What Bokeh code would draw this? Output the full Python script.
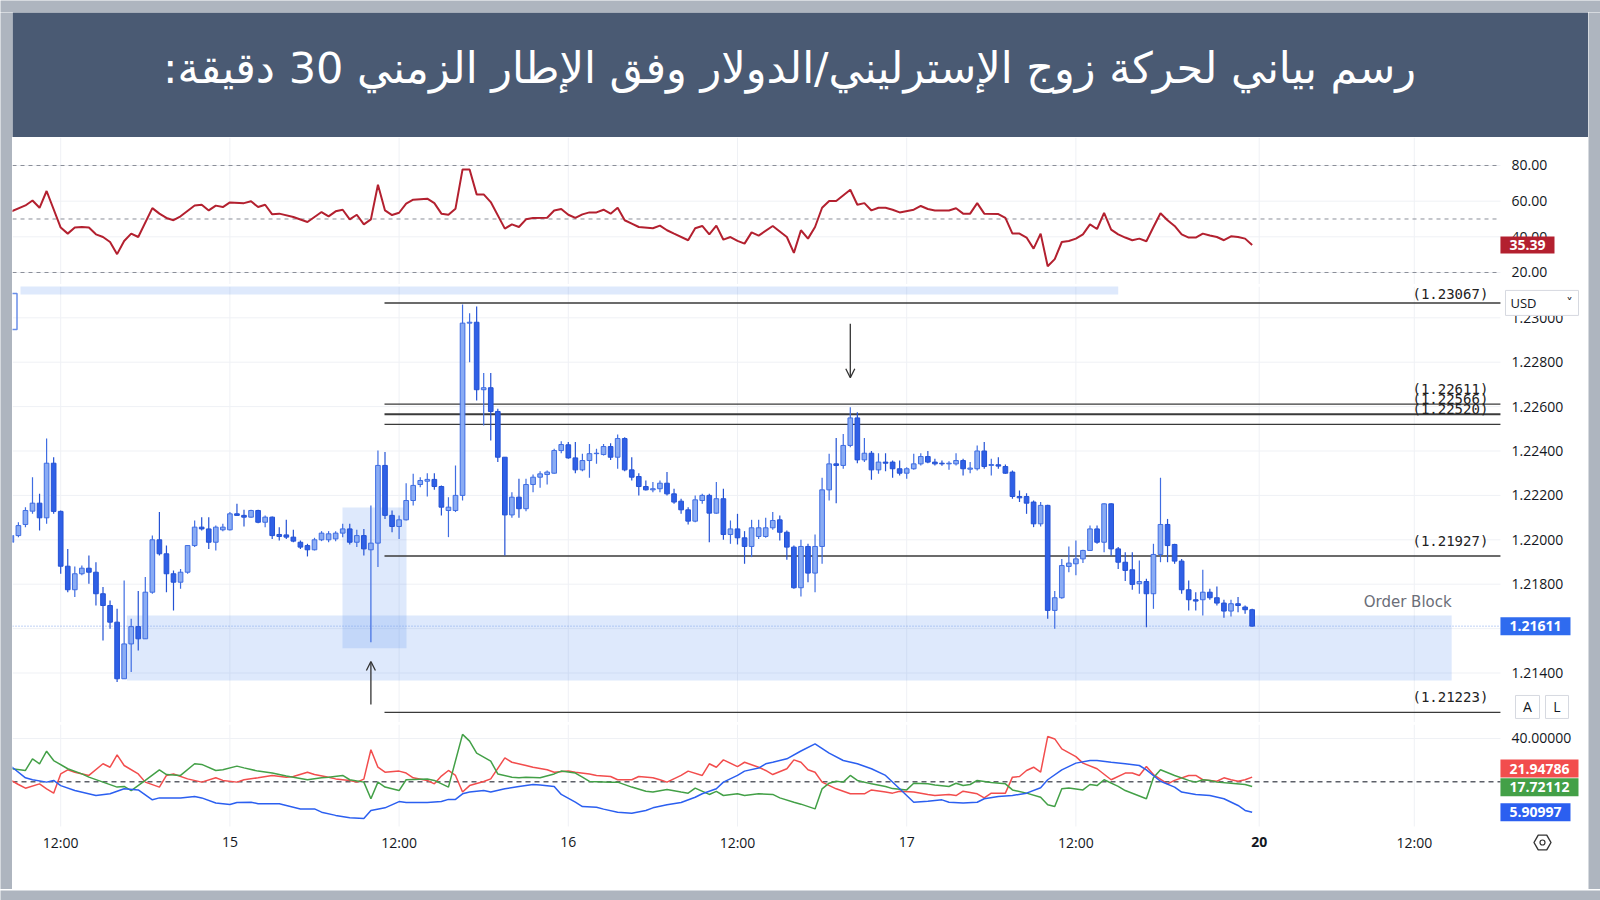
from bokeh.plotting import figure
from bokeh.layouts import column, row
from bokeh.models import Range1d, Arrow, OpenHead, ColumnDataSource
from bokeh.embed import file_html
from bokeh.resources import INLINE
from bokeh.core.properties import value

# ---------------- data ----------------
title_text = "\u200fرسم بياني لحركة زوج الإسترليني/الدولار وفق الإطار الزمني 30 دقيقة:\u200f"

opens = [1.21989,1.22019,1.22069,1.22129,1.22165,1.22099,1.22345,1.22128,1.21881,1.21775,
1.21847,1.21872,1.21854,1.21757,1.21704,1.21629,1.21374,1.21531,1.21609,1.21554,
1.21764,1.22000,1.21937,1.21847,1.21809,1.21854,1.21974,1.22057,1.22049,1.21989,
1.22045,1.22045,1.22117,1.22110,1.22102,1.22132,1.22079,1.22102,1.22024,1.22022,
1.22012,1.21989,1.21974,1.21955,1.22000,1.22000,1.22004,1.22030,1.22049,1.21989,
1.22019,1.21955,1.21985,1.22335,1.22110,1.22060,1.22090,1.22177,1.22249,1.22264,
1.22272,1.22240,1.22132,1.22132,1.22200,1.22976,1.22980,1.22676,1.22685,1.22578,
1.22372,1.22112,1.22192,1.22140,1.22249,1.22282,1.22294,1.22300,1.22402,1.22428,
1.22369,1.22315,1.22357,1.22388,1.22384,1.22420,1.22372,1.22456,1.22315,1.22285,
1.22240,1.22225,1.22230,1.22255,1.22207,1.22174,1.22135,1.22084,1.22177,1.22200,
1.22120,1.22185,1.22024,1.22049,1.22009,1.21970,1.22015,1.22015,1.22054,1.22090,
1.22034,1.21967,1.21784,1.21970,1.21850,1.21970,1.22225,1.22342,1.22335,1.22425,
1.22549,1.22360,1.22390,1.22315,1.22350,1.22350,1.22320,1.22300,1.22320,1.22342,
1.22375,1.22350,1.22345,1.22342,1.22342,1.22357,1.22318,1.22320,1.22400,1.22335,
1.22338,1.22330,1.22305,1.22195,1.22195,1.22170,1.22072,1.22155,1.21682,1.21739,
1.21880,1.21892,1.21914,1.21952,1.22049,1.21989,1.22162,1.21959,1.21899,1.21865,
1.21802,1.21812,1.21757,1.21934,1.22069,1.21979,1.21904,1.21775,1.21730,1.21730,
1.21764,1.21739,1.21715,1.21679,1.21712,1.21697,1.21685]

highs = [1.22027,1.22079,1.22147,1.22282,1.22207,1.22456,1.22372,1.22132,1.21959,1.21880,
1.21884,1.21929,1.21899,1.21787,1.21727,1.21689,1.21817,1.21644,1.21769,1.21832,
1.22019,1.22125,1.21974,1.21862,1.21869,1.21974,1.22087,1.22102,1.22102,1.22064,
1.22072,1.22125,1.22162,1.22135,1.22135,1.22135,1.22110,1.22105,1.22057,1.22090,
1.22045,1.21997,1.21982,1.22009,1.22039,1.22039,1.22039,1.22072,1.22072,1.22045,
1.22049,1.22155,1.22402,1.22395,1.22132,1.22110,1.22255,1.22297,1.22282,1.22300,
1.22300,1.22245,1.22192,1.22335,1.23060,1.23021,1.23051,1.22751,1.22751,1.22590,
1.22372,1.22214,1.22275,1.22275,1.22294,1.22309,1.22312,1.22410,1.22444,1.22440,
1.22440,1.22388,1.22432,1.22410,1.22432,1.22435,1.22474,1.22462,1.22372,1.22300,
1.22267,1.22260,1.22267,1.22305,1.22230,1.22185,1.22147,1.22200,1.22207,1.22207,
1.22260,1.22230,1.22087,1.22117,1.22039,1.22090,1.22090,1.22099,1.22125,1.22110,
1.22042,1.21974,1.22000,1.21982,1.22024,1.22279,1.22388,1.22459,1.22477,1.22597,
1.22575,1.22459,1.22400,1.22390,1.22390,1.22357,1.22357,1.22327,1.22388,1.22390,
1.22400,1.22365,1.22357,1.22354,1.22390,1.22365,1.22350,1.22425,1.22440,1.22365,
1.22372,1.22339,1.22312,1.22222,1.22210,1.22177,1.22170,1.22158,1.21769,1.21914,
1.21970,1.21997,1.21955,1.22064,1.22064,1.22165,1.22165,1.21967,1.21944,1.21944,
1.21907,1.21824,1.21982,1.22279,1.22094,1.21982,1.21914,1.21817,1.21764,1.21865,
1.21779,1.21790,1.21730,1.21730,1.21742,1.21704,1.21689]

lows = [1.21982,1.22012,1.22057,1.22117,1.22042,1.22072,1.22117,1.21847,1.21764,1.21742,
1.21840,1.21802,1.21704,1.21546,1.21599,1.21359,1.21374,1.21404,1.21501,1.21554,
1.21757,1.21929,1.21764,1.21682,1.21779,1.21847,1.21967,1.22042,1.21959,1.21952,
1.22039,1.22042,1.22110,1.22060,1.22099,1.22075,1.22057,1.22004,1.21997,1.22004,
1.21989,1.21959,1.21925,1.21952,1.21994,1.21989,1.21994,1.22012,1.21979,1.21967,
1.21929,1.21539,1.21877,1.22094,1.22034,1.22004,1.22087,1.22155,1.22237,1.22195,
1.22225,1.22110,1.22012,1.22125,1.22177,1.22800,1.22627,1.22515,1.22447,1.22350,
1.21929,1.22099,1.22099,1.22129,1.22214,1.22234,1.22249,1.22297,1.22390,1.22365,
1.22300,1.22309,1.22279,1.22342,1.22380,1.22360,1.22320,1.22309,1.22267,1.22200,
1.22222,1.22214,1.22214,1.22200,1.22162,1.22117,1.22069,1.22079,1.22162,1.21989,
1.22117,1.22000,1.21982,1.21979,1.21892,1.21922,1.22004,1.22009,1.22045,1.21997,
1.21910,1.21779,1.21745,1.21809,1.21764,1.21892,1.22177,1.22165,1.22320,1.22417,
1.22345,1.22350,1.22270,1.22297,1.22309,1.22279,1.22290,1.22275,1.22315,1.22335,
1.22345,1.22335,1.22333,1.22315,1.22335,1.22290,1.22300,1.22312,1.22320,1.22290,
1.22320,1.22297,1.22185,1.22170,1.22117,1.22057,1.22060,1.21644,1.21599,1.21734,
1.21854,1.21840,1.21895,1.21949,1.21982,1.21944,1.21929,1.21869,1.21814,1.21775,
1.21757,1.21606,1.21689,1.21899,1.21899,1.21892,1.21757,1.21682,1.21682,1.21659,
1.21730,1.21704,1.21649,1.21655,1.21674,1.21667,1.21609]

closes = [1.22019,1.22064,1.22132,1.22165,1.22099,1.22345,1.22128,1.21881,1.21775,1.21847,
1.21872,1.21854,1.21757,1.21704,1.21629,1.21374,1.21531,1.21609,1.21554,1.21764,
1.22000,1.21937,1.21847,1.21809,1.21854,1.21974,1.22057,1.22049,1.21989,1.22057,
1.22057,1.22117,1.22110,1.22102,1.22132,1.22079,1.22102,1.22019,1.22015,1.22012,
1.21994,1.21967,1.21955,1.22000,1.22030,1.22027,1.22030,1.22049,1.21989,1.22019,
1.21959,1.21985,1.22335,1.22110,1.22060,1.22090,1.22177,1.22245,1.22267,1.22272,
1.22240,1.22147,1.22147,1.22200,1.22976,1.22980,1.22676,1.22685,1.22578,1.22372,
1.22112,1.22192,1.22140,1.22249,1.22282,1.22297,1.22305,1.22402,1.22429,1.22369,
1.22315,1.22357,1.22388,1.22390,1.22420,1.22372,1.22456,1.22315,1.22282,1.22240,
1.22225,1.22230,1.22255,1.22207,1.22170,1.22135,1.22084,1.22180,1.22200,1.22120,
1.22185,1.22024,1.22049,1.22009,1.21970,1.22054,1.22054,1.22054,1.22087,1.22034,
1.21967,1.21784,1.21970,1.21850,1.21970,1.22225,1.22342,1.22335,1.22425,1.22549,
1.22360,1.22390,1.22315,1.22350,1.22345,1.22320,1.22300,1.22320,1.22342,1.22375,
1.22350,1.22342,1.22342,1.22345,1.22357,1.22320,1.22323,1.22400,1.22330,1.22339,
1.22332,1.22300,1.22195,1.22189,1.22165,1.22072,1.22155,1.21682,1.21739,1.21884,
1.21895,1.21914,1.21952,1.22049,1.21989,1.22162,1.21959,1.21899,1.21862,1.21799,
1.21812,1.21757,1.21934,1.22069,1.21974,1.21904,1.21775,1.21730,1.21724,1.21764,
1.21739,1.21715,1.21679,1.21712,1.21704,1.21685,1.21611]

rsi_idx = [0,2,3,4,5,7,8,9,10,11,12,13,14,15,16,17,18,20,21,22,23,24,26,27,28,29,30,31,33,34,
35,36,37,38,40,42,44,45,46,47,48,49,50,51,52,53,54,55,56,57,59,60,61,62,63,64,65,66,67,68,
70,71,72,73,74,76,77,78,79,80,81,82,83,84,85,86,87,88,89,91,92,93,94,96,97,98,99,100,101,102,
103,104,105,106,108,110,111,112,113,114,115,116,117,119,120,121,122,123,124,125,
126,128,129,130,131,133,134,135,136,137,138,140,141,142,143,144,145,146,147,148,
149,150,151,152,153,154,155,156,157,158,159,160,161,162,163,164,165,166,167,168,
169,170,171,172,173,174,175,176]
rsi_val = [54.3,57.6,60.4,56.3,65.7,45.2,41.8,45.2,45.5,45.2,41.4,39.9,37.1,30.3,37.7,41.8,39.9,56.1,53.0,50.6,
49.3,51.5,57.6,58.0,54.8,57.5,56.7,59.3,58.9,59.9,56.7,58.0,52.6,53.0,51.1,48.3,53.9,51.5,54.3,55.2,
49.8,52.4,47.0,49.8,69.2,54.8,52.2,53.5,58.6,60.8,61.4,58.9,53.0,52.4,55.8,77.8,77.8,63.8,63.8,59.5,
44.6,47.0,45.5,49.8,50.6,50.7,54.8,55.6,52.4,50.6,52.6,53.7,53.7,55.2,53.0,56.3,49.3,47.4,45.5,44.8,
46.3,43.7,41.8,38.1,44.8,46.1,41.4,46.3,38.4,39.9,37.7,36.2,42.5,40.7,46.1,39.9,31.0,43.7,39.0,45.5,
56.3,60.1,60.1,66.4,58.0,58.9,54.8,56.3,56.3,55.2,53.7,55.2,57.3,55.6,54.8,54.8,56.0,53.0,53.0,58.9,
53.0,52.8,50.6,41.8,41.8,39.6,33.4,41.8,23.5,27.5,37.1,37.7,39.0,41.4,47.0,44.4,53.4,44.0,41.4,39.6,
38.1,39.0,37.5,45.5,53.2,49.3,46.1,41.4,39.6,39.6,41.8,40.7,39.9,38.1,40.3,39.9,39.0,35.4]

adx_pts = [(0,27.0),(2,21.8),(3,20.9),(5,19.8),(6,20.6),(7,18.2),(9,15.9),(12,13.6),(14,14.4),(16,16.7),
(18,16.2),(20,11.6),(21,12.5),(24,12.5),(26,13.1),(27,12.5),(29,10.1),(31,9.4),(32,10.4),(34,10.5),
(35,9.8),(38,9.8),(39,9.0),(41,7.4),(43,7.4),(44,5.9),(46,4.4),(48,3.3),(50,3.0),(51,6.7),(53,7.9),
(55,10.8),(56,10.4),(59,10.4),(61,10.8),(62,11.8),(63,11.8),(64,14.4),(65,15.2),(67,15.9),(68,15.2),
(70,16.7),(72,17.8),(74,18.7),(75,18.5),(77,17.8),(78,14.1),(80,10.5),(81,8.5),(83,8.2),(84,7.3),
(86,5.9),(88,5.4),(90,6.7),(91,7.9),(93,9.3),(95,10.4),(97,12.8),(98,14.4),(100,16.7),(101,19.8),
(103,22.9),(104,24.9),(106,26.3),(107,28.3),(108,29.0),(110,30.6),(112,34.2),(114,37.5),(116,33.2),
(118,29.8),(120,28.3),(122,26.0),(124,22.9),(126,16.7),(128,10.5),(130,11.0),(132,11.6),(133,10.5),
(135,10.1),(137,10.5),(138,12.1),(140,13.1),(142,13.6),(144,14.7),(146,17.2),(147,20.9),(149,25.5),
(151,28.6),(153,29.8),(154,29.8),(156,29.0),(158,28.3),(160,27.5),(161,25.5),(163,20.2),(165,17.5),
(166,15.2),(168,14.1),(170,13.6),(172,12.1),(174,9.0),(175,6.7),(176,5.9)]

minus_di_pts = [(0,20.6),(1,18.7),(2,17.0),(4,19.0),(5,16.7),(6,14.7),(7,23.6),(8,25.5),(9,24.4),(11,22.9),
(13,28.3),(14,26.7),(15,32.4),(16,27.5),(18,23.6),(19,19.8),(21,17.5),(22,22.9),(23,23.6),(25,21.3),
(27,19.8),(29,21.8),(30,20.6),(32,19.8),(33,20.9),(35,21.8),(37,22.9),(39,22.1),(40,22.4),(42,24.4),
(43,23.3),(45,22.1),(46,21.3),(48,20.6),(49,19.8),(50,21.2),(51,34.8),(52,26.7),(53,24.4),(55,24.9),
(56,24.0),(57,21.8),(59,20.6),(60,19.0),(61,22.6),(62,25.2),(63,22.9),(64,15.2),(65,18.2),(67,20.1),
(68,21.3),(70,31.0),(71,29.0),(73,27.5),(74,26.7),(76,25.5),(77,24.4),(79,24.9),(80,24.4),(82,23.6),
(83,22.9),(85,22.4),(86,20.9),(88,20.9),(89,22.4),(91,21.8),(92,20.9),(93,19.8),(95,22.9),(96,24.9),
(98,22.9),(99,28.3),(100,26.7),(101,30.1),(103,27.0),(104,29.0),(106,26.7),(107,25.2),(108,23.3),
(110,26.0),(111,30.1),(112,29.0),(113,25.5),(114,24.4),(115,19.8),(117,16.7),(119,14.4),(121,14.4),
(122,16.2),(124,15.2),(125,14.7),(126,15.6),(128,15.2),(130,14.1),(131,13.6),(133,14.1),(134,13.6),
(135,15.6),(137,14.4),(138,12.5),(139,14.7),(141,14.7),(142,22.1),(143,22.4),(144,25.2),(145,26.7),
(146,24.4),(147,40.9),(148,39.8),(149,35.2),(151,31.6),(152,28.6),(154,26.0),(156,20.9),(158,24.0),
(159,24.0),(160,22.9),(161,27.0),(162,23.3),(164,19.0),(165,20.6),(167,22.9),(168,22.9),(169,20.9),
(170,20.6),(171,20.2),(172,21.8),(173,20.9),(174,20.2),(175,20.9),(176,22.1)]

plus_di_pts = [(0,26.0),(2,25.2),(3,30.6),(4,28.3),(5,34.1),(6,29.8),(8,26.0),(10,23.6),(11,22.1),(13,19.8),
(15,17.5),(16,17.8),(17,15.9),(19,20.6),(21,25.5),(22,23.3),(24,22.9),(26,28.3),(27,28.0),(29,25.2),
(30,25.5),(32,27.2),(33,26.4),(35,24.9),(37,24.0),(39,22.6),(40,22.1),(42,20.9),(44,21.8),(45,22.1),
(47,22.9),(48,20.9),(50,19.8),(51,12.1),(52,19.8),(53,17.5),(55,15.9),(56,20.9),(59,21.2),(60,20.6),
(62,17.5),(64,41.9),(65,38.8),(66,33.2),(68,29.5),(69,23.6),(71,22.1),(72,21.8),(73,22.1),(75,21.8),
(77,23.6),(78,24.9),(80,24.0),(81,22.1),(82,20.1),(85,19.8),(86,19.8),(88,17.5),(90,15.6),(91,15.2),
(93,16.4),(95,15.2),(96,14.7),(97,17.0),(99,14.1),(100,15.5),(101,13.6),(103,14.4),(104,13.6),(106,14.4),
(108,14.1),(109,12.5),(111,10.5),(112,9.6),(114,7.4),(115,16.7),(116,19.3),(117,20.2),(118,19.8),(119,22.9),
(120,20.6),(122,19.0),(124,17.8),(125,16.8),(127,16.2),(128,19.3),(130,19.0),(131,18.5),(133,17.8),(134,19.3),
(135,18.2),(136,18.7),(137,20.6),(139,19.6),(141,19.0),(142,16.2),(144,14.7),(146,12.8),(147,9.3),(148,8.5),
(149,16.7),(150,17.1),(152,16.2),(153,18.7),(154,18.2),(155,20.9),(157,17.8),(158,15.9),(161,12.1),(162,21.8),
(163,25.5),(165,22.9),(167,20.6),(168,19.8),(169,20.9),(170,20.6),(171,19.8),(173,19.3),(175,18.7),(176,17.8)]

time_ticks = [7, 31, 55, 79, 103, 127, 151, 177, 199]
time_labels = ["12:00", "15", "12:00", "16", "12:00", "17", "12:00", "20", "12:00"]
price_ticks = [1.214, 1.216, 1.218, 1.220, 1.222, 1.224, 1.226, 1.228, 1.230]
rsi_ticks = [20, 40, 60, 80]
rsi_bands = [80, 50, 20]
dmi_ticks = [40]
dmi_band = 20

levels = [1.23067, 1.22611, 1.22566, 1.22520, 1.21927, 1.21223]
level_texts = ["(1.23067)", "(1.22611)", "(1.22566)", "(1.22520)", "(1.21927)", "(1.21223)"]
last_price = 1.21611
rsi_last = 35.39
dmi_last = [("21.94786", 26.1, "#f24d4d"), ("17.72112", 17.45, "#43a047"), ("5.90997", 5.88, "#2b5ff0")]

ob_top, ob_bottom = 1.21659, 1.21366          # order block zone
ob_left, ob_right = 16.4, 204.3
sweep_left, sweep_right = 46.97, 56.05        # highlight around the liquidity-sweep candle
sweep_top, sweep_bottom = 1.22145, 1.21511
arrow_up = (51, 1.21258, 1.21452)
arrow_down = (119, 1.22973, 1.22730)

# ---------------- style / layout constants ----------------
GRAY = "#aeb5bf"
BANNER = "#4a5a73"
SEP = "#e0e3eb"
GRID = "#eff1f5"
INK = "#131722"
INNER_W = 1576
XR = (0.163, 223.71)      # full-width frame (plot area + price scale column)
X_END = 211.22            # right edge of the plotting area
LAB_X = 212.78            # left edge of price-scale labels
AXFONT = "Open Sans"


def blank(w, h, color):
    p = figure(width=w, height=h, x_range=(0, 1), y_range=(0, 1), x_axis_location=None,
               y_axis_location=None, toolbar_location=None, output_backend="svg", min_border=0)
    p.grid.visible = False
    p.background_fill_color = color
    p.border_fill_color = color
    p.outline_line_color = None
    p.scatter([0.5], [0.5], alpha=0)
    return p


def panel(h, yr):
    p = figure(width=INNER_W, height=h, x_range=Range1d(*XR), y_range=Range1d(*yr),
               x_axis_location=None, y_axis_location=None, min_border=0,
               toolbar_location=None, output_backend="svg")
    p.grid.visible = False
    p.outline_line_color = None
    p.background_fill_color = "white"
    p.border_fill_color = "white"
    return p


def vgrid(p, y0, y1):
    n = len(time_ticks)
    p.segment(x0=time_ticks, y0=[y0] * n, x1=time_ticks, y1=[y1] * n, line_color=GRID, line_width=1)


def hgrid(p, ticks):
    n = len(ticks)
    p.segment(x0=[XR[0]] * n, y0=ticks, x1=[X_END] * n, y1=ticks, line_color=GRID, line_width=1)


def ylabels(p, ticks, fmt):
    p.text(x=[LAB_X] * len(ticks), y=ticks, text=[fmt.format(t) for t in ticks],
           text_align="left", text_baseline="middle", text_color=INK,
           text_font=value(AXFONT), text_font_size="14px")


def px2x(px):
    return (px - 10.85) / 7.05


def badge(p, y, half_h, right_px, text, color):
    r = px2x(right_px)
    p.quad(left=[X_END], right=[r], top=[y + half_h], bottom=[y - half_h],
           fill_color=color, line_color=None)
    p.text(x=[(X_END + r) / 2], y=[y], text=[text], text_align="center", text_baseline="middle",
           text_color="white", text_font=value(AXFONT), text_font_size="14px",
           text_font_style="bold")


def box(p, left_px, right_px, y, half_h):
    p.quad(left=[px2x(left_px)], right=[px2x(right_px)], top=[y + half_h], bottom=[y - half_h],
           fill_color="white", line_color="#d6d9e0", line_width=1)


# ---------------- banner ----------------
banner = figure(width=INNER_W, height=125, x_range=(0, INNER_W), y_range=(0, 125),
                x_axis_location=None, y_axis_location=None, toolbar_location=None,
                output_backend="svg", min_border=0)
banner.grid.visible = False
banner.background_fill_color = BANNER
banner.border_fill_color = BANNER
banner.outline_line_color = None
banner.text(x=[777], y=[70], text=[title_text], text_align="center", text_baseline="middle",
            text_color="white", text_font=value("DejaVu Sans"), text_font_size="43px")

# ---------------- RSI panel (frame 137..284) ----------------
RSI_PX = 1.783
rsi = panel(147, (13.27, 95.70))
vgrid(rsi, 13.27, 95.70)
hgrid(rsi, rsi_ticks)
n = len(rsi_bands)
rsi.segment(x0=[XR[0]] * n, y0=rsi_bands, x1=[X_END] * n, y1=rsi_bands,
            line_color="#8a8e98", line_dash="4 4", line_width=1)
rsi.line(rsi_idx, rsi_val, line_color="#b3202f", line_width=2)
ylabels(rsi, rsi_ticks, "{:.2f}")
badge(rsi, rsi_last, 8.5 / RSI_PX, 1554, "35.39", "#b3202f")

# ---------------- price panel (frame 286..722) ----------------
PX = 22200.0
main = panel(436, (1.21177, 1.23141))
vgrid(main, 1.21177, 1.23141)
hgrid(main, price_ticks)

main.quad(left=[1.3], right=[157.0], top=[1.2316], bottom=[1.23105],
          fill_color="#4a86f0", fill_alpha=0.18, line_color=None)
main.quad(left=[ob_left], right=[ob_right], top=[ob_top], bottom=[ob_bottom],
          fill_color="#4a86f0", fill_alpha=0.18, line_color=None)
main.quad(left=[sweep_left], right=[sweep_right], top=[sweep_top], bottom=[sweep_bottom],
          fill_color="#4a86f0", fill_alpha=0.18, line_color=None)
main.segment(x0=[XR[0]], y0=[last_price], x1=[X_END], y1=[last_price],
             line_color="#7fa2ea", line_dash="1 2", line_width=1)
# partially visible drawing-tool handle at the left edge
main.quad(left=[-3], right=[px2x(16.5)], top=[1.23109], bottom=[1.22947],
          fill_color=None, line_color="#6a8ee8", line_width=1.5)

widths = [1.6, 1.3, 2.0, 1.3, 1.3, 1.3]
offsets = [-9, -15, -15, -15, -15, -15]
m = len(levels)
main.segment(x0=[52.93] * m, y0=levels, x1=[X_END] * m, y1=levels,
             line_color="#3a3a3a", line_width=widths)
for lv, txt, off in zip(levels, level_texts, offsets):
    main.text(x=[209.5], y=[lv], text=[txt], text_align="right",
              text_baseline="middle", y_offset=off, text_color="#222222",
              text_font=value("DejaVu Sans Mono"), text_font_size="14px")
main.text(x=[ob_right], y=[1.21718], text=["Order Block"], text_align="right",
          text_baseline="middle", text_color="#6b6e78", text_font=value("DejaVu Sans"),
          text_font_size="15px")

idx = list(range(len(opens)))
up = [c >= o for o, c in zip(opens, closes)]
src = ColumnDataSource(dict(
    x=idx, o=opens, h=highs, l=lows, c=closes,
    top=[max(a, b) for a, b in zip(opens, closes)],
    bot=[min(a, b) for a, b in zip(opens, closes)],
    fill=["#8aacf4" if u else "#2f60e6" for u in up],
    line=["#3f6de2" if u else "#2452d4" for u in up],
))
main.segment(x0="x", y0="l", x1="x", y1="h", source=src, line_color="line", line_width=1.2)
main.vbar(x="x", width=0.66, top="top", bottom="bot", source=src,
          fill_color="fill", line_color="line", line_width=1)

for ax, y0, y1 in (arrow_up, arrow_down):
    main.add_layout(Arrow(end=OpenHead(size=9, line_color="#333333", line_width=1.3),
                          x_start=ax, y_start=y0, x_end=ax, y_end=y1,
                          line_color="#333333", line_width=1.3))

ylabels(main, price_ticks, "{:.5f}")
badge(main, last_price, 9 / PX, 1570, "1.21611", "#2f6bef")
# "USD" scale selector
usd_y = 1.23067
box(main, 1505, 1578, usd_y, 12.5 / PX)
main.text(x=[px2x(1510)], y=[usd_y], text=["USD"], text_align="left", text_baseline="middle",
          text_color=INK, text_font=value(AXFONT), text_font_size="13px")
main.text(x=[px2x(1569)], y=[usd_y], text=["\u02c5"], text_align="center", text_baseline="middle",
          text_color=INK, text_font=value("DejaVu Sans"), text_font_size="13px")
# "A" / "L" buttons
al_y = 1.21247
for l_px, r_px, t in ((1515, 1539, "A"), (1545, 1568, "L")):
    box(main, l_px, r_px, al_y, 11.5 / PX)
    main.text(x=[px2x((l_px + r_px) / 2)], y=[al_y], text=[t], text_align="center",
              text_baseline="middle", text_color=INK, text_font=value(AXFONT),
              text_font_size="14px")

# ---------------- DMI panel + time scale (frame 724..855) ----------------
DPX = 2.16
dmi_bottom = -0.74
dmi = panel(131, (-14.17, 46.48))
vgrid(dmi, dmi_bottom, 46.48)
hgrid(dmi, dmi_ticks)
dmi.segment(x0=[XR[0]], y0=[dmi_band], x1=[X_END], y1=[dmi_band],
            line_color="#5d6069", line_dash="5 4", line_width=1.4)
for pts, col in ((minus_di_pts, "#f24d4d"), (plus_di_pts, "#43a047"), (adx_pts, "#2b5ff0")):
    xs, ys = zip(*pts)
    dmi.line(list(xs), list(ys), line_color=col, line_width=1.5)
ylabels(dmi, dmi_ticks, "{:.5f}")
for txt, yv, col in dmi_last:
    badge(dmi, yv, 9 / DPX, 1578 if len(txt) > 7 else 1570, txt, col)
# time axis labels
lab_y = -8.15
reg = [(t, s) for t, s in zip(time_ticks, time_labels) if s != "20"]
dmi.text(x=[t for t, _ in reg], y=[lab_y] * len(reg), text=[s for _, s in reg],
         text_align="center", text_baseline="middle", text_color=INK,
         text_font=value(AXFONT), text_font_size="14px")
dmi.text(x=[177], y=[lab_y], text=["20"], text_align="center", text_baseline="middle",
         text_color=INK, text_font=value(AXFONT), text_font_size="14px", text_font_style="bold")
# settings icon
dmi.scatter(x=[px2x(1542)], y=[lab_y], marker="hex", size=17, fill_color=None,
            line_color="#333333", line_width=1.4, angle=0)
dmi.scatter(x=[px2x(1542)], y=[lab_y], marker="circle", size=5, fill_color=None,
            line_color="#333333", line_width=1.2)

# ---------------- assemble ----------------
inner = column(banner, rsi, blank(INNER_W, 2, SEP), main, blank(INNER_W, 2, SEP), dmi,
               blank(INNER_W, 2, SEP), blank(INNER_W, 32, "white"), spacing=0)
page = column(blank(1600, 12, GRAY),
              row(blank(12, 877, GRAY), inner, blank(12, 877, GRAY), spacing=0),
              blank(1600, 11, GRAY), spacing=0)

open("out.html", "w").write(file_html(page, INLINE))
